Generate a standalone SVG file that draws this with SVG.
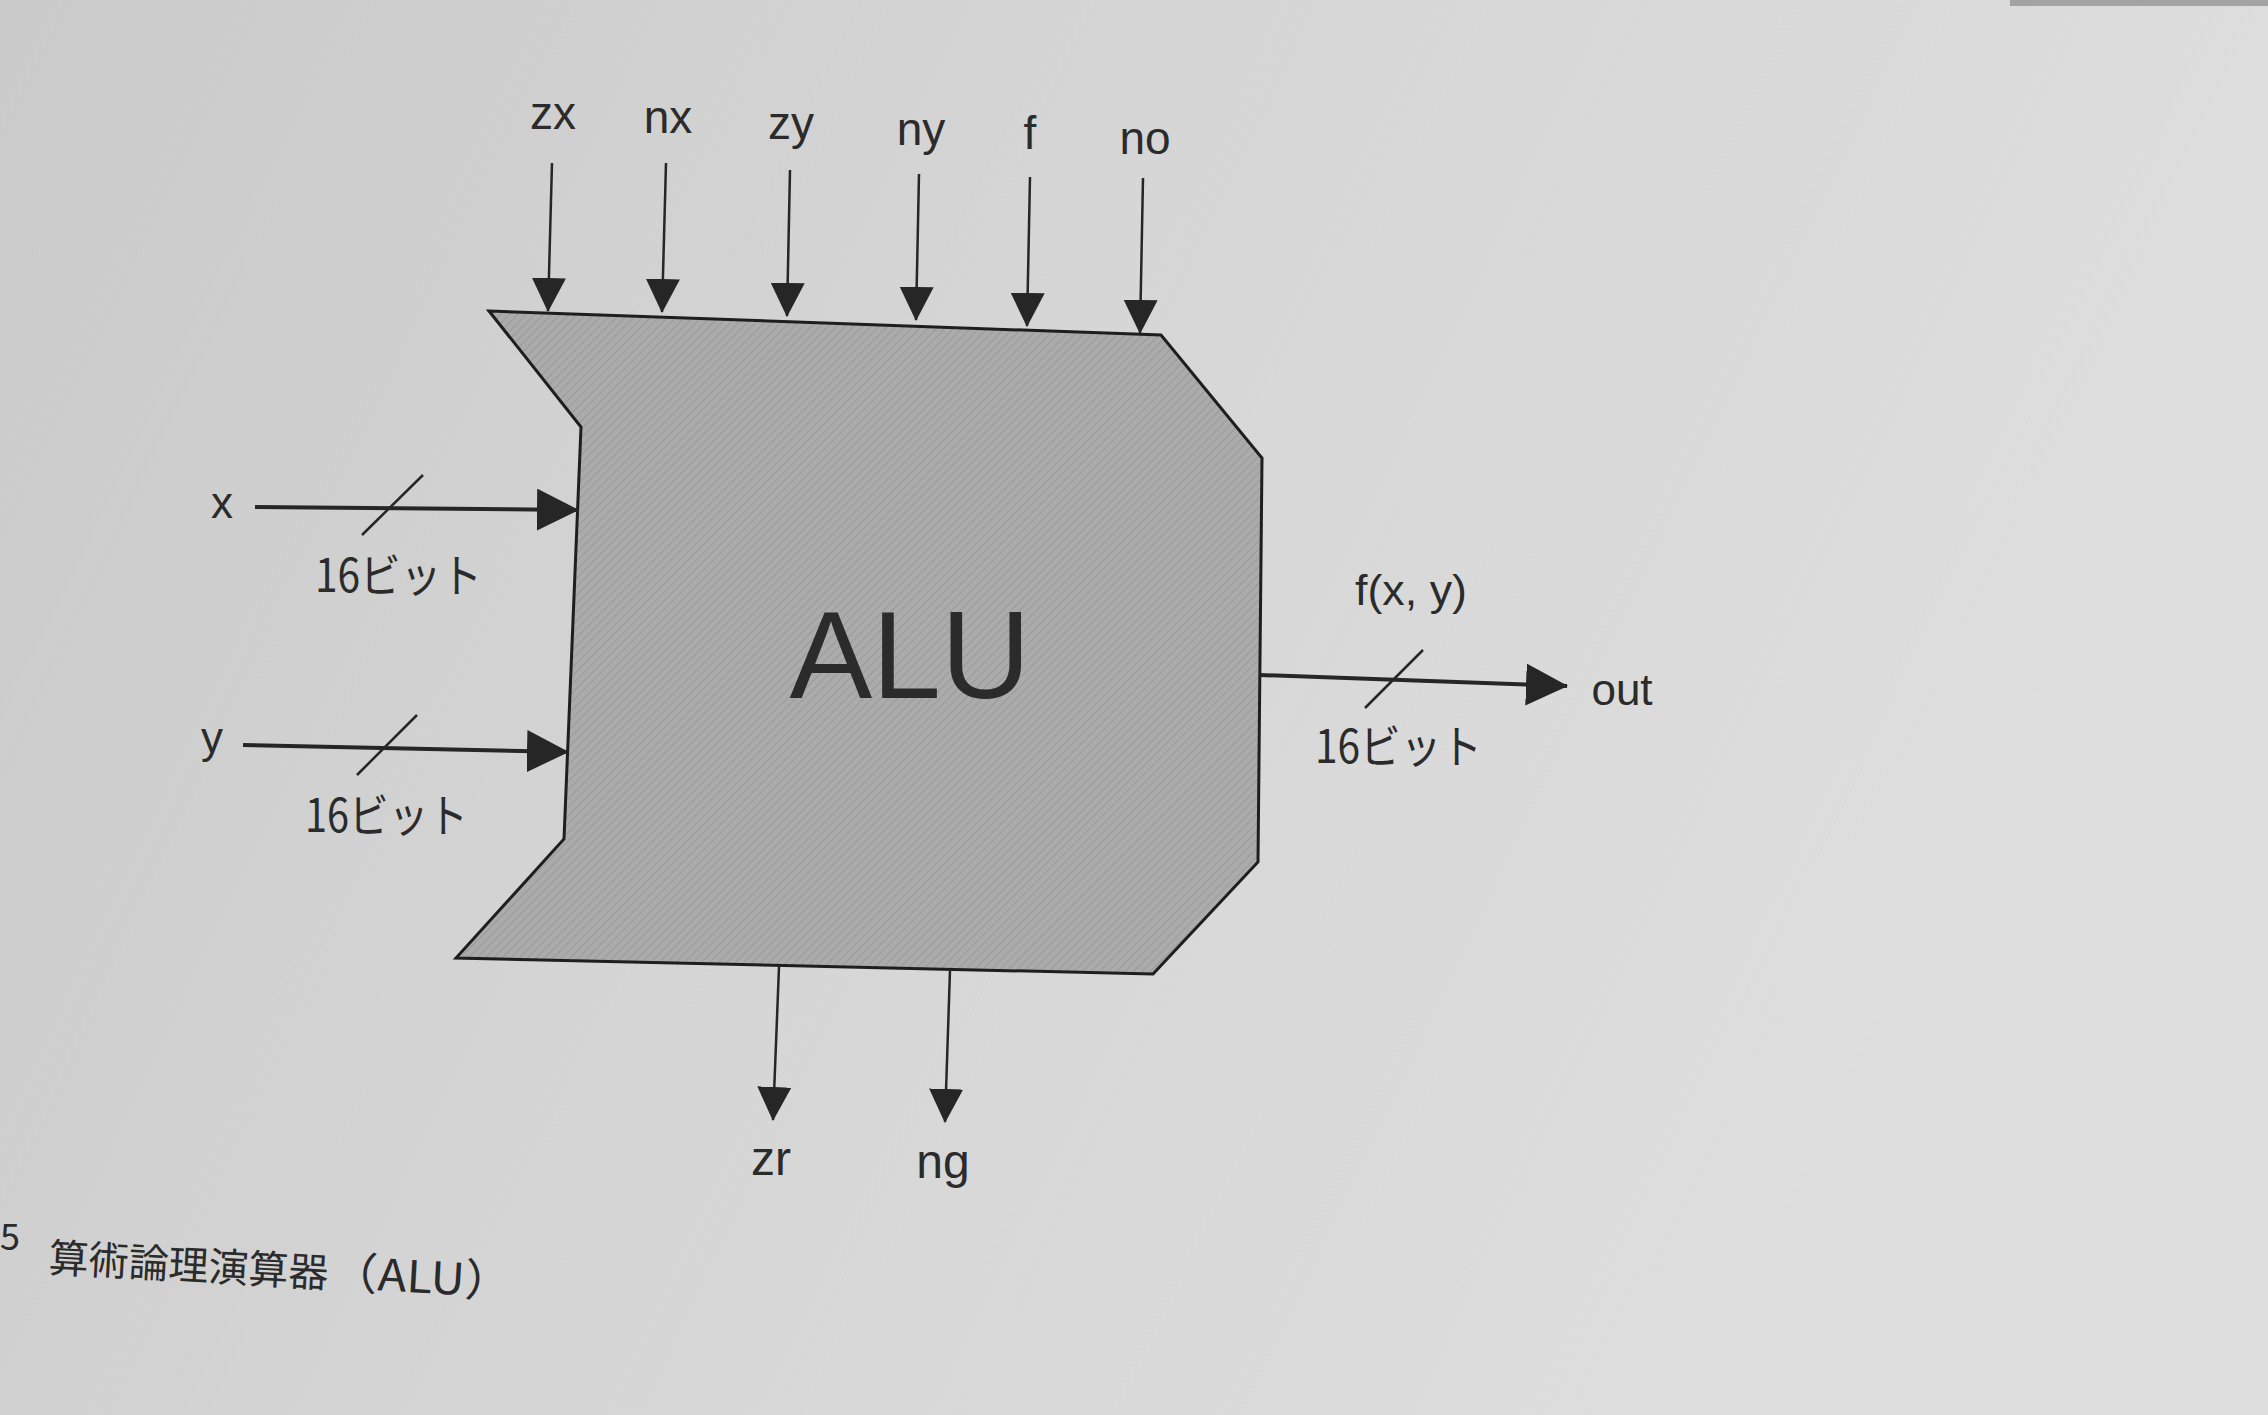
<svg xmlns="http://www.w3.org/2000/svg" width="2268" height="1415" viewBox="0 0 2268 1415">
<defs>
<linearGradient id="paper" x1="0" y1="0" x2="1" y2="0.3">
<stop offset="0" stop-color="#cacaca"/>
<stop offset="0.5" stop-color="#d6d6d6"/>
<stop offset="1" stop-color="#dedede"/>
</linearGradient>
<pattern id="hatch" width="6" height="6" patternUnits="userSpaceOnUse" patternTransform="rotate(45)">
<rect width="6" height="6" fill="#ababab"/>
<line x1="0" y1="0" x2="0" y2="6" stroke="#9a9a9a" stroke-width="2"/>
</pattern>
<marker id="ah" markerUnits="userSpaceOnUse" markerWidth="34" markerHeight="34" refX="33" refY="17" orient="auto">
<path d="M0,0 L34,17 L0,34 z" fill="#262626"/>
</marker>
<marker id="ahb" markerUnits="userSpaceOnUse" markerWidth="42" markerHeight="42" refX="41" refY="21" orient="auto">
<path d="M0,0 L42,21 L0,42 z" fill="#262626"/>
</marker>
<style>
.sig{stroke:#262626;stroke-width:2.5;fill:none;marker-end:url(#ah)}
.bus{stroke:#262626;stroke-width:4;fill:none;marker-end:url(#ahb)}
.slash{stroke:#262626;stroke-width:2.5}
.lbl{font-family:"Liberation Sans",Arial,sans-serif;fill:#2b2b2b;text-anchor:middle}
.jp{font-family:"Noto Sans CJK JP","Noto Sans",sans-serif;fill:#2b2b2b}
</style>
</defs>
<rect width="2268" height="1415" fill="url(#paper)"/>
<rect x="2010" y="0" width="258" height="6" fill="#a3a3a3"/>

<g id="alu">
<polygon points="489,311 1161,335 1262,458 1258,862 1153,974 456,958 564,839 581,427" fill="url(#hatch)" stroke="#1e1e1e" stroke-width="3" stroke-linejoin="miter"/>
<text class="lbl" x="910" y="698" font-size="124">ALU</text>
</g>

<g id="connectors">
<line class="sig" x1="552" y1="163" x2="548" y2="311"/>
<line class="sig" x1="666" y1="163" x2="662" y2="312"/>
<line class="sig" x1="790" y1="170" x2="787" y2="316"/>
<line class="sig" x1="919" y1="174" x2="916" y2="320"/>
<line class="sig" x1="1030" y1="177" x2="1027" y2="326"/>
<line class="sig" x1="1143" y1="178" x2="1140" y2="333"/>
<line class="bus" x1="255" y1="507" x2="578" y2="510"/>
<line class="slash" x1="362" y1="535" x2="423" y2="475"/>
<line class="bus" x1="243" y1="745" x2="568" y2="752"/>
<line class="slash" x1="357" y1="775" x2="417" y2="715"/>
<line class="bus" x1="1260" y1="675" x2="1567" y2="686"/>
<line class="slash" x1="1365" y1="708" x2="1423" y2="650"/>
<line class="sig" x1="779" y1="967" x2="773" y2="1120"/>
<line class="sig" x1="950" y1="970" x2="945" y2="1122"/>
</g>

<g id="labels">
<text class="lbl" x="553" y="129" font-size="46">zx</text>
<text class="lbl" x="668" y="133" font-size="46">nx</text>
<text class="lbl" x="791" y="139" font-size="46">zy</text>
<text class="lbl" x="921" y="145" font-size="46">ny</text>
<text class="lbl" x="1030" y="149" font-size="46">f</text>
<text class="lbl" x="1145" y="154" font-size="46">no</text>
<text class="lbl" x="222" y="518" font-size="44">x</text>
<text class="lbl" x="212" y="753" font-size="44">y</text>
<text class="jp" x="315" y="592" font-size="46" textLength="167" lengthAdjust="spacingAndGlyphs">16ビット</text>
<text class="jp" x="305" y="832" font-size="46" textLength="163" lengthAdjust="spacingAndGlyphs">16ビット</text>
<text class="jp" x="1315" y="763" font-size="46" textLength="167" lengthAdjust="spacingAndGlyphs">16ビット</text>
<text class="lbl" x="1411" y="605" font-size="42" textLength="112" lengthAdjust="spacingAndGlyphs">f(x, y)</text>
<text class="lbl" x="1622" y="705" font-size="44">out</text>
<text class="lbl" x="771" y="1175" font-size="48">zr</text>
<text class="lbl" x="943" y="1178" font-size="48">ng</text>
</g>

<g id="caption">
<text class="jp" x="0" y="1250" font-size="36">5</text>
<g transform="rotate(3.2 50 1272)">
<text class="jp" x="48" y="1272" font-size="40" textLength="280" lengthAdjust="spacingAndGlyphs">算術論理演算器</text>
<text class="jp" x="330" y="1272" font-size="44" textLength="182" lengthAdjust="spacingAndGlyphs">（ALU）</text>
</g>
</g>
</svg>
